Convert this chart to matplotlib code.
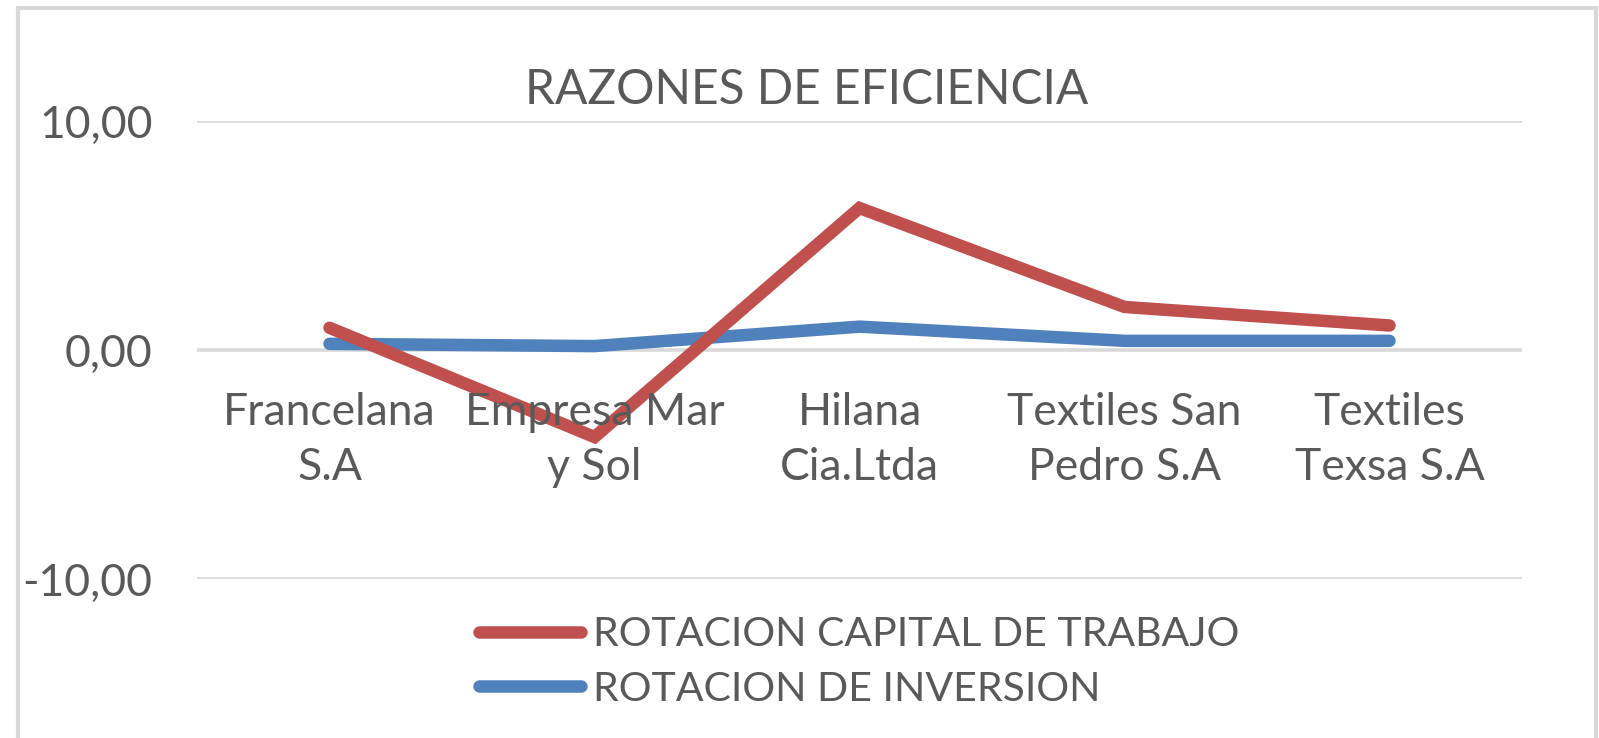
import numpy as np
import matplotlib
matplotlib.use("Agg")
import matplotlib.pyplot as plt
from matplotlib.patches import Rectangle

# data
empresas = ["Francelana\nS.A", "Empresa Mar\ny Sol", "Hilana\nCia.Ltda",
            "Textiles San\nPedro S.A", "Textiles\nTexsa S.A"]
rot_capital = [0.97, -3.8, 6.2, 1.88, 1.07]
rot_inversion = [0.27, 0.17, 1.02, 0.4, 0.4]
series_names = ["ROTACION CAPITAL DE TRABAJO", "ROTACION DE INVERSION"]
yticks = [-10, 0, 10]
ytick_labels = ["-10,00", "0,00", "10,00"]
title = "RAZONES DE EFICIENCIA"

plt.rcParams['font.family'] = ["Lato", "DejaVu Sans"]

grey = "#595959"
fs = 32

fig = plt.figure(figsize=(15.99, 7.38), dpi=100)
W, H = 1599, 738
# outer chart frame
fig.patches.append(Rectangle((18 / W, -0.05), 1578 / W, 1.05 - 7.5 / H,
                             transform=fig.transFigure, fill=False,
                             edgecolor="#d9d9d9", linewidth=3))

ax = fig.add_axes([197 / W, 1 - 579 / H, (1522 - 197) / W, (579 - 121) / H])
x = np.arange(len(empresas))
l1, = ax.plot(x, rot_capital, color="#c0504d", linewidth=9,
              solid_capstyle="round", solid_joinstyle="miter")
l2, = ax.plot(x, rot_inversion, color="#4f81bd", linewidth=9,
              solid_capstyle="round", solid_joinstyle="round", zorder=1.9)

ax.set_xlim(-0.5, len(empresas) - 0.5)
ax.set_ylim(-10, 10)
ax.set_yticks(yticks)
ax.set_yticklabels(ytick_labels)
ax.yaxis.grid(True, color="#d9d9d9", linewidth=2.6)
ax.set_axisbelow(True)
for s in ax.spines.values():
    s.set_visible(False)
ax.tick_params(axis="y", length=0, pad=32, labelsize=fs, labelcolor=grey)

ax.set_xticks(x)
ax.set_xticklabels([])
for xi, name in zip(x, empresas):
    ax.annotate(name, (xi, 0), xycoords="data", xytext=(0, -30),
                textcoords="offset points", ha="center", va="top",
                fontsize=fs, color=grey, linespacing=1.42)
ax.tick_params(axis="x", length=0)

fig.text(807 / W, 1 - 104 / H, title, ha="center", va="baseline",
         fontsize=34.5, color=grey)

ax.legend([l1, l2], series_names, loc="center left",
          bbox_to_anchor=(479 / W, 1 - 662 / H), bbox_transform=fig.transFigure,
          frameon=False, fontsize=29.5, handlelength=2.5, handletextpad=0.28,
          labelspacing=0.42, borderpad=0, borderaxespad=0, labelcolor=grey)

fig.savefig("out.png", dpi=100)
